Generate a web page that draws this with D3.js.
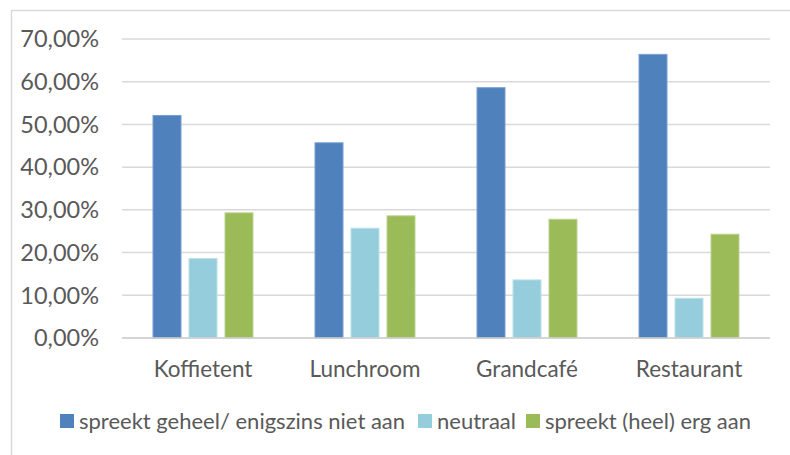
<!DOCTYPE html>
<html>
<head>
<meta charset="utf-8">
<script src="https://cdnjs.cloudflare.com/ajax/libs/d3/7.8.5/d3.min.js"></script>
<style>
  body { margin: 0; background: #fff; }
  text { font-family: Lato, "Open Sans", sans-serif; fill: #595959; }
</style>
</head>
<body>
<svg id="chart" width="790" height="455"></svg>
<script>
// data
var categories = ["Koffietent", "Lunchroom", "Grandcafé", "Restaurant"]
var series_names = ["spreekt geheel/ enigszins niet aan", "neutraal", "spreekt (heel) erg aan"]
var niet_aan = [0.521, 0.457, 0.586, 0.664]
var neutraal = [0.186, 0.257, 0.136, 0.093]
var erg_aan = [0.293, 0.286, 0.278, 0.243]
var y_ticks = [0, 0.1, 0.2, 0.3, 0.4, 0.5, 0.6, 0.7]

var colors = ["#4f81bd", "#95cddd", "#9bbb59"]
var strokes = ["#7a9fd0", "#bde0ea", "#bcd392"]

var svg = d3.select("#chart")

// chart border (only left + top visible in the picture)
svg.append("rect")
    .attr("x", 11.5).attr("y", 10.5)
    .attr("width", 800).attr("height", 460)
    .attr("fill", "none")
    .attr("stroke", "#d9d9d9")
    .attr("stroke-width", 1.5)

var xScale = d3.scaleBand().domain(categories).range([122, 770])
var xInner = d3.scaleBand().domain(d3.range(3)).range([0, xScale.bandwidth()])
    .paddingInner(0.222).paddingOuter(0.861)
var yScale = d3.scaleLinear().domain([0, 0.7]).range([338, 39])

var fmt = function(v) { return d3.format(".2f")(v * 100).replace(".", ",") + "%" }

// gridlines + y labels
var yAxis = svg.append("g")
y_ticks.forEach(function(t) {
    yAxis.append("line")
        .attr("x1", 122).attr("x2", 770)
        .attr("y1", yScale(t)).attr("y2", yScale(t))
        .attr("stroke", "#d9d9d9")
        .attr("stroke-width", 1.5)
    yAxis.append("text")
        .attr("x", 99).attr("y", yScale(t))
        .attr("dy", "0.35em")
        .attr("text-anchor", "end")
        .style("font-size", "23.5px")
        .text(fmt(t))
})

// bars
var values = [niet_aan, neutraal, erg_aan]
var bars = svg.append("g")
for (var s = 0; s < values.length; s++) {
    for (var i = 0; i < categories.length; i++) {
        bars.append("rect")
            .attr("x", xScale(categories[i]) + xInner(s))
            .attr("y", yScale(values[s][i]))
            .attr("width", xInner.bandwidth())
            .attr("height", yScale(0) - yScale(values[s][i]))
            .attr("fill", colors[s])
            .attr("stroke", strokes[s])
            .attr("stroke-width", 1)
    }
}

// x axis line + labels
svg.append("line")
    .attr("x1", 122).attr("x2", 770)
    .attr("y1", yScale(0)).attr("y2", yScale(0))
    .attr("stroke", "#d0d0d0")
    .attr("stroke-width", 1.5)

categories.forEach(function(c) {
    svg.append("text")
        .attr("x", xScale(c) + xScale.bandwidth() / 2)
        .attr("y", 377)
        .attr("text-anchor", "middle")
        .style("font-size", "22.5px")
        .text(c)
})

// legend
var legend_x = [60, 418, 526]
var legend = svg.append("g")
for (var k = 0; k < series_names.length; k++) {
    legend.append("rect")
        .attr("x", legend_x[k]).attr("y", 414)
        .attr("width", 14).attr("height", 14)
        .attr("fill", colors[k])
    legend.append("text")
        .attr("x", legend_x[k] + 19).attr("y", 429)
        .style("font-size", "22px")
        .text(series_names[k])
}
</script>
</body>
</html>
